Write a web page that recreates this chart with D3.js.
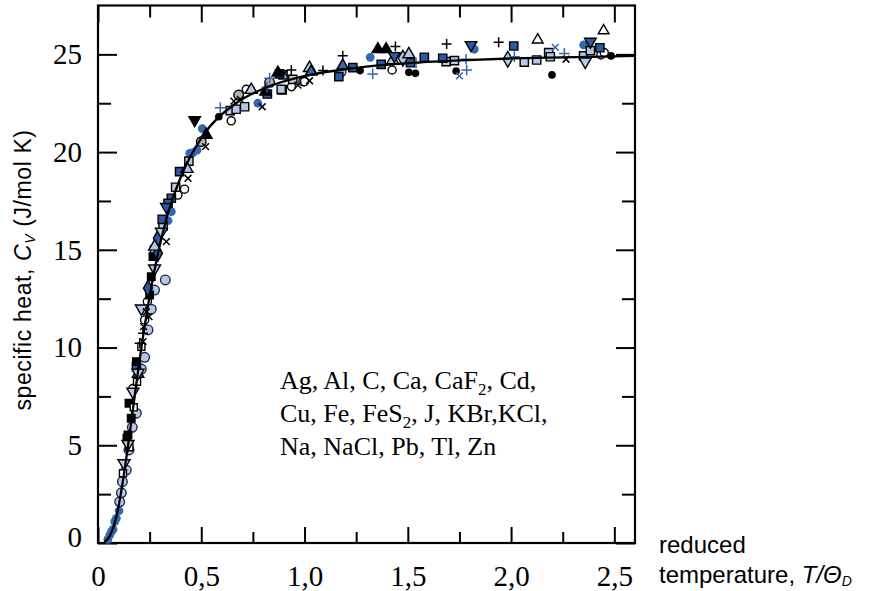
<!DOCTYPE html>
<html>
<head>
<meta charset="utf-8">
<script src="https://cdn.jsdelivr.net/npm/d3@7/dist/d3.min.js"></script>
<style>
  html, body { margin: 0; padding: 0; background: #fff; }
  svg { display: block; }
</style>
</head>
<body>
<svg id="chart" width="879" height="591"></svg>
<script>
// ---------- data ----------
const xTicks = [0, 0.5, 1.0, 1.5, 2.0, 2.5];
const xMinorTicks = [0.25, 0.75, 1.25, 1.75, 2.25];
const yTicks = [0, 5, 10, 15, 20, 25];
const yMinorTicks = [2.5, 7.5, 12.5, 17.5, 22.5];

const materials = ["Ag, Al, C, Ca, CaF|2|, Cd,", "Cu, Fe, FeS|2|, J, KBr,KCl,", "Na, NaCl, Pb, Tl, Zn"];

// fitted curve (T/ΘD, Cv)
const curveT  = [0.03, 0.05, 0.0667, 0.0833, 0.1, 0.125, 0.143, 0.167, 0.2, 0.25, 0.286, 0.333, 0.4, 0.5, 0.667, 0.8, 1.0, 1.25, 1.5, 1.75, 2.0, 2.25, 2.5, 2.6];
const curveCv = [0.05, 0.24, 0.58, 1.12, 1.90, 3.47, 4.79, 6.67, 9.26, 12.63, 14.61, 16.65, 18.70, 20.71, 22.49, 23.24, 23.89, 24.31, 24.55, 24.69, 24.79, 24.85, 24.90, 24.92];

// measured points, one array per marker style: [T/ΘD, Cv]
const blackDots = [[0.585,21.81],[1.269,24.17],[1.505,24.08],[1.537,24.03],[1.734,24.15],[2.198,23.95],[2.484,24.92]];
const openCircles = [[0.645,21.6],[0.718,23.21],[0.937,23.35],[0.992,23.6],[1.0,23.6],[1.424,24.2],[2.435,24.97],[2.451,25.09],[0.419,18.1],[0.387,17.8],[0.239,12.35],[0.226,11.41],[0.169,7.9]];
const lightCircles = [[1.177,24.11],[0.326,13.46],[0.274,12.94],[0.258,11.96],[0.242,10.9],[0.226,9.5],[0.21,8.9],[0.186,6.64],[0.166,5.92],[0.15,4.76],[0.137,3.73],[0.118,3.14],[0.113,2.57],[0.105,2.11]];
const greyCircles = [[0.681,22.92],[0.831,23.55],[0.5,20.53]];
const blueDots = [[0.505,21.2],[0.774,22.5],[0.444,19.94],[0.46,19.97],[0.479,20.1],[0.339,16.49],[0.355,16.95],[1.318,24.85],[1.822,25.26],[2.351,25.48],[0.102,1.65],[0.089,1.26],[0.081,1.09],[0.073,0.7],[0.065,0.58],[0.057,0.41],[0.048,0.19]];
const blueSquares = [[0.82,22.97],[0.879,24.0],[1.166,23.86],[1.234,24.32],[1.371,24.49],[1.513,24.57],[1.58,24.85],[1.669,24.8],[2.013,25.43],[2.43,25.34],[0.395,19.0],[0.355,17.64],[0.339,17.38],[0.311,16.56],[0.186,9.02]];
const lightSquares = [[0.896,23.95],[0.892,23.18],[0.943,23.72],[0.64,22.12],[0.669,22.19],[0.71,22.32],[0.887,23.21],[1.686,24.63],[1.726,24.68],[2.064,24.6],[2.124,24.71],[2.182,25.09],[2.19,24.88],[2.351,24.92],[2.384,25.19],[0.44,19.54],[0.376,18.2],[0.315,16.22],[0.274,15.0]];
const blackSquares = [[0.266,14.65],[0.258,13.62],[0.25,12.69],[0.186,9.28],[0.15,7.15],[0.161,6.38],[0.145,5.53],[0.14,5.36]];
const openSquares = [[0.21,10.04],[0.189,8.25],[0.173,6.94],[0.121,3.57],[0.152,4.9]];
const blackPlus = [[0.936,24.2],[1.089,24.17],[1.185,24.93],[1.44,25.4],[1.688,25.53],[1.94,25.62],[0.218,10.73],[0.202,10.22]];
const bluePlus = [[0.592,22.27],[0.831,23.78],[0.818,23.32],[1.33,24.0],[1.54,24.57],[1.782,24.75],[1.785,24.2],[2.016,24.88],[2.258,25.05]];
const blackCross = [[0.658,22.61],[0.689,22.7],[0.795,22.32],[0.903,24.03],[0.968,23.43],[1.024,23.65],[2.266,24.75],[0.521,20.28],[0.436,18.66],[0.331,15.42],[0.234,11.83],[0.247,11.58],[0.221,11.07],[0.218,10.3]];
const blueCross = [[1.75,23.9],[2.214,25.36]];
const blackTriUp = [[0.524,20.88],[0.811,23.09],[0.871,24.06],[1.355,25.26],[1.395,25.26]];
const openTriUp = [[2.129,25.74],[2.448,26.21]];
const lightTriUp = [[0.742,23.18],[1.024,24.3],[1.427,24.7],[1.505,25.0],[0.431,19.14],[0.274,15.16]];
const blueTriUp = [[1.185,24.42],[1.032,24.11],[0.194,8.65]];
const blackTriDown = [[0.468,21.64]];
const lightTriDown = [[2.359,24.63],[0.307,15.93],[0.274,14.05],[0.21,12.0],[0.194,8.71],[0.169,7.74],[0.145,5.07],[0.126,4.08]];
const blueTriDown = [[1.435,24.92],[1.806,25.48],[2.384,25.65],[0.331,17.2]];
const lightDiamonds = [[1.476,24.8],[1.984,24.75]];
const blueDiamonds = [[0.29,15.59],[0.29,14.82],[0.242,13.03]];

// ---------- drawing ----------
const LIGHT = "#b7c8e6", BLUE = "#3567b0", DARKBLUE = "#2a5aa3", GREY = "#b4b4b4";
const svg = d3.select("#chart");
const x = d3.scaleLinear().domain([0, 2.6]).range([98, 635]);
const y = d3.scaleLinear().domain([0, 27.5]).range([543, 5.5]);

const fmt = d => d === 0 ? "0" : d3.format(".1f")(d).replace(".", ",");
const serif = "'Liberation Serif', 'Times New Roman', serif";
const sans = "'Liberation Sans', Arial, sans-serif";

function styleAxis(g) {
  g.select(".domain").remove();
  g.selectAll(".tick line").attr("stroke", "#000").attr("stroke-width", 2);
  g.selectAll(".tick text").attr("font-family", serif).attr("font-size", 29).attr("fill", "#000");
}

// bottom
svg.append("g").attr("transform", `translate(0,${y(0)})`)
  .call(d3.axisBottom(x).tickValues(xTicks).tickSize(-16).tickSizeOuter(0).tickPadding(22).tickFormat(fmt))
  .call(styleAxis);
svg.append("g").attr("transform", `translate(0,${y(0)})`)
  .call(d3.axisBottom(x).tickValues(xMinorTicks).tickSize(-11).tickSizeOuter(0).tickFormat(""))
  .call(styleAxis);
// top
svg.append("g").attr("transform", `translate(0,${y(27.5)})`)
  .call(d3.axisTop(x).tickValues(xTicks).tickSize(-17).tickSizeOuter(0).tickFormat(""))
  .call(styleAxis);
svg.append("g").attr("transform", `translate(0,${y(27.5)})`)
  .call(d3.axisTop(x).tickValues(xMinorTicks).tickSize(-12).tickSizeOuter(0).tickFormat(""))
  .call(styleAxis);
// left
const gl = svg.append("g").attr("transform", `translate(${x(0)},0)`)
  .call(d3.axisLeft(y).tickValues(yTicks).tickSize(-19).tickSizeOuter(0).tickPadding(16).tickFormat(d => String(d)))
  .call(styleAxis);
gl.selectAll(".tick text").filter(d => d === 0).attr("dy", "0.12em");
svg.append("g").attr("transform", `translate(${x(0)},0)`)
  .call(d3.axisLeft(y).tickValues(yMinorTicks).tickSize(-13).tickSizeOuter(0).tickFormat(""))
  .call(styleAxis);
// right
svg.append("g").attr("transform", `translate(${x(2.6)},0)`)
  .call(d3.axisRight(y).tickValues(yTicks).tickSize(-19).tickSizeOuter(0).tickFormat(""))
  .call(styleAxis);
svg.append("g").attr("transform", `translate(${x(2.6)},0)`)
  .call(d3.axisRight(y).tickValues(yMinorTicks).tickSize(-13).tickSizeOuter(0).tickFormat(""))
  .call(styleAxis);

// frame
svg.append("rect")
  .attr("x", x(0)).attr("y", y(27.5))
  .attr("width", x(2.6) - x(0)).attr("height", y(0) - y(27.5))
  .attr("fill", "none").attr("stroke", "#000").attr("stroke-width", 2.2);

// stroke-only symbol types
const symPlus = { draw(ctx, size) { const r = Math.sqrt(size) / 2; ctx.moveTo(-r, 0); ctx.lineTo(r, 0); ctx.moveTo(0, -r); ctx.lineTo(0, r); } };
const symCross = { draw(ctx, size) { const r = Math.sqrt(size) / 2; ctx.moveTo(-r, -r); ctx.lineTo(r, r); ctx.moveTo(-r, r); ctx.lineTo(r, -r); } };

// markers
const series = [
  {data: blackDots,    sym: d3.symbolCircle,   size: 46, fill: "#000", stroke: "none"},
  {data: openCircles,  sym: d3.symbolCircle,   size: 52, fill: "#fff", stroke: "#000"},
  {data: lightCircles, sym: d3.symbolCircle,   size: 72, fill: LIGHT,  stroke: "#1c2a44"},
  {data: greyCircles,  sym: d3.symbolCircle,   size: 72, fill: GREY,   stroke: "#000"},
  {data: blueDots,     sym: d3.symbolCircle,   size: 60, fill: BLUE,   stroke: "none"},
  {data: lightSquares, sym: d3.symbolSquare,   size: 68, fill: LIGHT,  stroke: "#000"},
  {data: blueSquares,  sym: d3.symbolSquare,   size: 68, fill: DARKBLUE, stroke: "#000"},
  {data: blackSquares, sym: d3.symbolSquare,   size: 56, fill: "#000", stroke: "#000"},
  {data: openSquares,  sym: d3.symbolSquare,   size: 50, fill: "#fff", stroke: "#000"},
  {data: lightDiamonds,sym: d3.symbolDiamond,  size: 72, fill: LIGHT,  stroke: "#000"},
  {data: blueDiamonds, sym: d3.symbolDiamond,  size: 72, fill: DARKBLUE, stroke: "#000"},
  {data: blackTriUp,   sym: d3.symbolTriangle, size: 58, fill: "#000", stroke: "#000"},
  {data: openTriUp,    sym: d3.symbolTriangle, size: 50, fill: "#fff", stroke: "#000"},
  {data: lightTriUp,   sym: d3.symbolTriangle, size: 62, fill: LIGHT,  stroke: "#000"},
  {data: blueTriUp,    sym: d3.symbolTriangle, size: 58, fill: BLUE,   stroke: "#000"},
  {data: blackTriDown, sym: d3.symbolTriangle, size: 58, fill: "#000", stroke: "#000", rot: 180},
  {data: lightTriDown, sym: d3.symbolTriangle, size: 62, fill: LIGHT,  stroke: "#000", rot: 180},
  {data: blueTriDown,  sym: d3.symbolTriangle, size: 58, fill: DARKBLUE, stroke: "#000", rot: 180},
  {data: blackCross,   sym: symCross, size: 46, fill: "none", stroke: "#000", line: true},
  {data: blueCross,    sym: symCross, size: 46, fill: "none", stroke: BLUE, line: true},
  {data: blackPlus,    sym: symPlus,  size: 100, fill: "none", stroke: "#000", line: true},
  {data: bluePlus,     sym: symPlus,  size: 115, fill: "none", stroke: BLUE, line: true}
];

const gm = svg.append("g");
series.forEach(s => {
  const path = d3.symbol().type(s.sym).size(s.size)();
  gm.selectAll(null).data(s.data).enter().append("path")
    .attr("d", path)
    .attr("transform", d => `translate(${x(d[0])},${y(d[1])})` + (s.rot ? ` rotate(${s.rot})` : ""))
    .attr("fill", s.fill)
    .attr("stroke", s.stroke)
    .attr("stroke-width", s.line ? 1.5 : 1.4);
});

// curve
const line = d3.line().x((d, i) => x(curveT[i])).y((d, i) => y(curveCv[i])).curve(d3.curveMonotoneX);
svg.append("path").datum(curveT).attr("d", line)
  .attr("fill", "none").attr("stroke", "#000").attr("stroke-width", 2.3);

// materials text block
const tb = svg.append("text").attr("font-family", serif).attr("font-size", 26).attr("fill", "#000");
materials.forEach((ln, i) => {
  const parts = ln.split("|");
  parts.forEach((p, j) => {
    const t = tb.append("tspan").text(p);
    if (j === 0) t.attr("x", 280).attr("y", 389 + i * 33);
    if (j % 2 === 1) t.attr("font-size", 17).attr("dy", 6);
    else if (j > 0) t.attr("dy", -6);
  });
});

// y-axis title
const yt = svg.append("text")
  .attr("transform", "translate(31,270) rotate(-90)")
  .attr("text-anchor", "middle")
  .attr("font-family", sans).attr("font-size", 23).attr("fill", "#000")
  .attr("letter-spacing", 0.6);
yt.append("tspan").text("specific heat, ");
yt.append("tspan").attr("font-style", "italic").text("C");
yt.append("tspan").attr("font-style", "italic").attr("font-size", 14).attr("dy", 4).text("V");
yt.append("tspan").attr("dy", -4).text(" (J/mol K)");

// x-axis title
svg.append("text").attr("x", 659).attr("y", 553)
  .attr("font-family", sans).attr("font-size", 24).attr("fill", "#000").text("reduced");
const xt = svg.append("text").attr("x", 659).attr("y", 583)
  .attr("font-family", sans).attr("font-size", 24).attr("fill", "#000");
xt.append("tspan").text("temperature, ");
xt.append("tspan").attr("font-style", "italic").text("T/Θ");
xt.append("tspan").attr("font-style", "italic").attr("font-size", 14).attr("dy", 3).text("D");
</script>
</body>
</html>
